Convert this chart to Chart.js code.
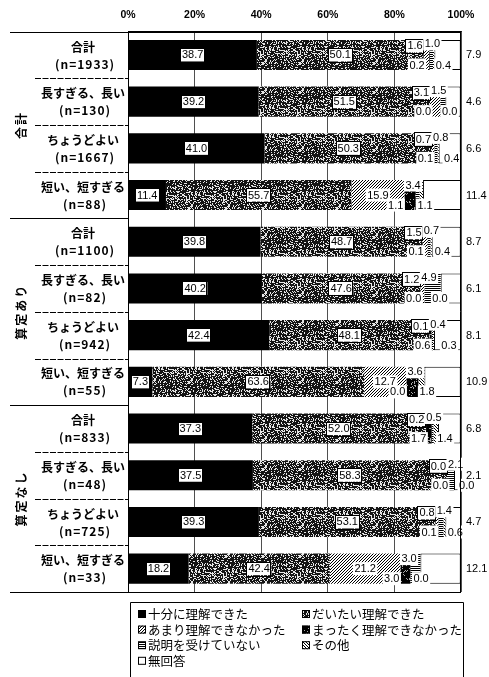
<!DOCTYPE html>
<html>
<head>
<meta charset="utf-8">
<script src="https://cdn.jsdelivr.net/npm/chart.js@4/dist/chart.umd.min.js"></script>
<style>
  html, body { margin: 0; padding: 0; background: #fff; }
  canvas { display: block; }
</style>
</head>
<body>
<canvas id="c" width="489" height="677"></canvas>
<script>
// rows (top to bottom)
const rowNames = ['合計', '長すぎる、長い', 'ちょうどよい', '短い、短すぎる',
                  '合計', '長すぎる、長い', 'ちょうどよい', '短い、短すぎる',
                  '合計', '長すぎる、長い', 'ちょうどよい', '短い、短すぎる'];
const rowCounts = ['(n=1933)', '(n=130)', '(n=1667)', '(n=88)',
                   '(n=1100)', '(n=82)', '(n=942)', '(n=55)',
                   '(n=833)', '(n=48)', '(n=725)', '(n=33)'];
const groupNames = ['合計', '算定あり', '算定なし'];
const xTicks = [0, 20, 40, 60, 80, 100];

const seriesNames = ['十分に理解できた', 'だいたい理解できた', 'あまり理解できなかった',
                     'まったく理解できなかった', '説明を受けていない', 'その他', '無回答'];
const juubun   = [38.7, 39.2, 41.0, 11.4, 39.8, 40.2, 42.4, 7.3, 37.3, 37.5, 39.3, 18.2];
const daitai   = [50.1, 51.5, 50.3, 55.7, 48.7, 47.6, 48.1, 63.6, 52.0, 58.3, 53.1, 42.4];
const amari    = [1.6, 3.1, 0.7, 15.9, 1.5, 1.2, 0.1, 12.7, 0.2, 0.0, 0.8, 21.2];
const mattaku  = [0.2, 0.0, 0.1, 3.4, 0.1, 0.0, 0.6, 3.6, 1.7, 0.0, 0.1, 3.0];
const setsumei = [1.0, 1.5, 0.8, 1.1, 0.7, 4.9, 0.4, 0.0, 0.5, 2.1, 1.4, 3.0];
const sonota   = [0.4, 0.0, 0.4, 1.1, 0.4, 0.0, 0.3, 1.8, 1.4, 0.0, 0.6, 0.0];
const mukaitou = [7.9, 4.6, 6.6, 11.4, 8.7, 6.1, 8.1, 10.9, 6.8, 2.1, 4.7, 12.1];
const seriesValues = [juubun, daitai, amari, mattaku, setsumei, sonota, mukaitou];

const canvas = document.getElementById('c');
const ctx = canvas.getContext('2d');

// fill textures, like the print original
function makeTile(w, h, draw) {
  const t = document.createElement('canvas');
  t.width = w; t.height = h;
  draw(t.getContext('2d'), w, h);
  return ctx.createPattern(t, 'repeat');
}
function speckle(base, light, density, seed) {
  return makeTile(37, 29, (g, w, h) => {
    g.fillStyle = base;
    g.fillRect(0, 0, w, h);
    g.fillStyle = light;
    for (let y = 0; y < h; y++) {
      for (let x = 0; x < w; x++) {
        let v = Math.imul(x + 1, 374761393) ^ Math.imul(y + 7, 668265263) ^ Math.imul(seed, 2246822519);
        v = Math.imul(v ^ (v >>> 13), 1274126177);
        v = (v ^ (v >>> 16)) >>> 0;
        if ((v % 1000) / 1000 < density) g.fillRect(x, y, 1, 1);
      }
    }
  });
}
function hatch(dir, gap) {
  return makeTile(gap, gap, (g, w) => {
    g.fillStyle = '#fff';
    g.fillRect(0, 0, w, w);
    g.fillStyle = '#000';
    for (let i = 0; i < w; i++) g.fillRect(i, dir > 0 ? w - 1 - i : i, 1, 1);
  });
}
const hLines = makeTile(1, 2, g => {
  g.fillStyle = '#fff'; g.fillRect(0, 0, 1, 2);
  g.fillStyle = '#000'; g.fillRect(0, 0, 1, 1);
});

const fills = [
  '#000',
  speckle('#141414', '#e6e6e6', 0.3, 3),
  hatch(1, 3),
  speckle('#000', '#aaa', 0.12, 9),
  hLines,
  hatch(-1, 3),
  '#fff'
];

const NUM_FONT = '11px "Liberation Sans", Arial, sans-serif';
const JP_BOLD = 'bold 12px "Noto Sans CJK JP", sans-serif';

function tag(c, text, x, y, align, boxed, bg = true) {
  c.font = NUM_FONT;
  const w = c.measureText(text).width;
  const left = align === 'center' ? x - w / 2 : align === 'right' ? x - w : x;
  if (bg) {
    c.fillStyle = '#fff';
    c.fillRect(left - 1.5, y - 6.5, w + 3, 13);
  }
  if (boxed) {
    c.strokeStyle = '#000';
    c.lineWidth = 1;
    c.strokeRect(Math.round(left - 2) + 0.5, Math.round(y - 7) + 0.5, Math.round(w + 3), 14);
  }
  c.fillStyle = '#000';
  c.textAlign = 'left';
  c.textBaseline = 'middle';
  c.fillText(text, left, y + 0.5);
}

const overlay = {
  id: 'overlay',
  afterDatasetsDraw(chart) {
    const c = chart.ctx;
    const area = chart.chartArea;
    const metas = seriesValues.map((_, i) => chart.getDatasetMeta(i));
    c.save();

    // value labels
    rowNames.forEach((_, j) => {
      const b0 = metas[0].data[j];
      const T = b0.y - b0.height / 2, B = b0.y + b0.height / 2;
      for (let s = 0; s < 2; s++) {
        const b = metas[s].data[j];
        tag(c, seriesValues[s][j].toFixed(1), (b.base + b.x) / 2, b.y, 'center', true);
      }
      if (amari[j] >= 5) {
        const b = metas[2].data[j];
        tag(c, amari[j].toFixed(1), (b.base + b.x) / 2, b.y, 'center', false);
        const xa = b.x;
        tag(c, mattaku[j].toFixed(1), xa + 1, T + 5, 'left', false);
        tag(c, setsumei[j].toFixed(1), xa - 1, B - 5, 'right', false);
        tag(c, sonota[j].toFixed(1), xa + 13, B - 5, 'left', false);
      } else {
        const xe = metas[1].data[j].x;
        tag(c, amari[j].toFixed(1), xe - 1, T + 6, 'right', true);
        tag(c, mattaku[j].toFixed(1), xe + 1, B - 5, 'right', false);
        tag(c, setsumei[j].toFixed(1), xe + 1, T + 4, 'left', false);
        tag(c, sonota[j].toFixed(1), xe + 12, B - 5, 'left', false);
      }
      tag(c, mukaitou[j].toFixed(1), area.right + 5, b0.y, 'left', false, false);
    });
    c.restore();
  },
  afterDraw(chart) {
    const c = chart.ctx;
    const area = chart.chartArea;
    const ys = chart.scales.y;
    c.save();
    c.strokeStyle = '#000';
    c.lineWidth = 1;

    // frame: left, right
    c.beginPath();
    c.moveTo(area.left + 0.5, area.top); c.lineTo(area.left + 0.5, area.bottom);
    c.moveTo(area.right - 0.5, area.top); c.lineTo(area.right - 0.5, area.bottom);
    c.stroke();

    // row separators in the label column
    const n = rowNames.length;
    for (let k = 0; k <= n; k++) {
      let y;
      if (k === 0) y = area.top;
      else if (k === n) y = area.bottom;
      else y = (ys.getPixelForValue(k - 1) + ys.getPixelForValue(k)) / 2;
      y = Math.round(y) + 0.5;
      const group = k % 4 === 0;
      c.beginPath();
      if (!group) c.setLineDash([6, 1.5]);
      c.moveTo(group ? 10 : 35, y);
      c.lineTo(k === 0 || k === n ? area.right : area.left, y);
      c.stroke();
      c.setLineDash([]);
    }

    // category labels
    c.fillStyle = '#000';
    c.textAlign = 'center';
    c.textBaseline = 'middle';
    rowNames.forEach((name, j) => {
      const y = ys.getPixelForValue(j);
      c.font = JP_BOLD;
      c.fillText(name, 83, y - 8);
      c.letterSpacing = '1px';
      c.fillText(rowCounts[j], 85, y + 9);
      c.letterSpacing = '0px';
    });

    // group labels, written sideways
    groupNames.forEach((g, i) => {
      const y = (ys.getPixelForValue(i * 4) + ys.getPixelForValue(i * 4 + 3)) / 2;
      c.save();
      c.translate(21, y);
      c.rotate(-Math.PI / 2);
      c.font = JP_BOLD;
      c.letterSpacing = '2px';
      c.fillText(g, 0, 0);
      c.restore();
    });

    // legend box
    const lx = 130, ly = 602, lr = 463;
    c.beginPath();
    c.moveTo(lx + 0.5, 700); c.lineTo(lx + 0.5, ly + 0.5);
    c.lineTo(lr + 0.5, ly + 0.5); c.lineTo(lr + 0.5, 700);
    c.stroke();
    c.font = '12.5px "Noto Sans CJK JP", sans-serif';
    c.textAlign = 'left';
    seriesNames.forEach((name, i) => {
      const col = i % 2, row = Math.floor(i / 2);
      const mx = col === 0 ? 138 : 302;
      const my = 614 + row * 15.6;
      c.fillStyle = fills[i];
      c.fillRect(mx, my - 4, 8, 8);
      c.strokeRect(mx + 0.5, my - 3.5, 7, 7);
      c.fillStyle = '#000';
      c.fillText(name, mx + 10, my + 0.5);
    });
    c.restore();
  }
};

new Chart(ctx, {
  type: 'bar',
  data: {
    labels: rowNames.map((r, j) => r + ' ' + rowCounts[j]),
    datasets: seriesNames.map((name, i) => ({
      label: name,
      data: seriesValues[i],
      backgroundColor: fills[i],
      borderColor: '#000',
      borderWidth: i === 6 ? 1 : 0,
      borderSkipped: false,
      barPercentage: 0.644,
      categoryPercentage: 1
    }))
  },
  options: {
    indexAxis: 'y',
    responsive: false,
    animation: false,
    devicePixelRatio: 1,
    layout: { padding: { left: 128, right: 28, top: -1, bottom: 85 } },
    plugins: {
      legend: { display: false },
      tooltip: { enabled: false }
    },
    scales: {
      x: {
        position: 'top',
        stacked: true,
        min: 0,
        max: 100,
        afterBuildTicks: s => { s.ticks = xTicks.map(v => ({ value: v })); },
        ticks: {
          callback: v => v + '%',
          color: '#000',
          padding: 10,
          maxRotation: 0,
          font: { family: '"Liberation Sans", Arial, sans-serif', size: 10.5, weight: 'bold' }
        },
        grid: { color: '#222', lineWidth: 0.8, drawTicks: false },
        border: { display: true, color: '#000', width: 1 }
      },
      y: {
        stacked: true,
        display: false
      }
    }
  },
  plugins: [overlay]
});
</script>
</body>
</html>
